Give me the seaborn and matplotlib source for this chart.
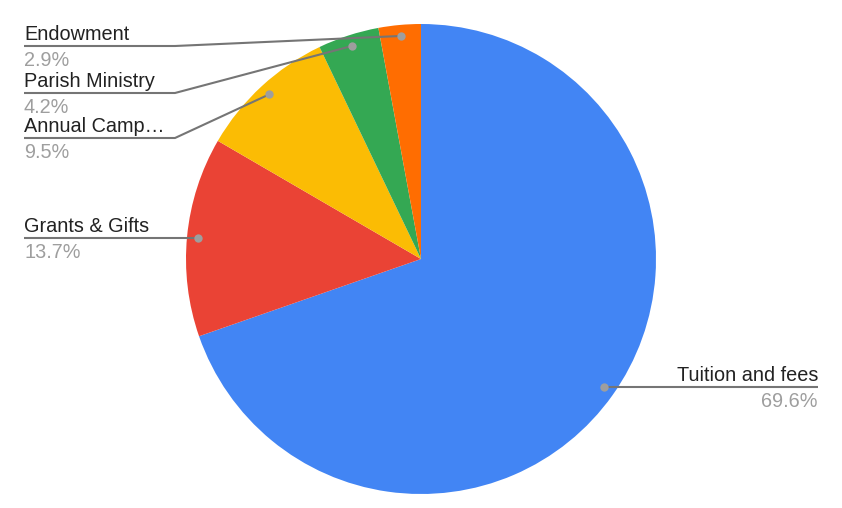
import numpy as np
import matplotlib.pyplot as plt
import seaborn as sns

sns.set_style('white')
plt.rcParams['font.family'] = ['Liberation Sans', 'DejaVu Sans']

# Data
labels = ['Tuition and fees', 'Grants & Gifts', 'Annual Camp…', 'Parish Ministry', 'Endowment']
shares = [69.6, 13.7, 9.5, 4.2, 2.9]
colors = ['#4285F4', '#EA4335', '#FBBC04', '#34A853', '#FF6D01']

W, H = 842, 508
fig = plt.figure(figsize=(W / 100, H / 100), dpi=100)
ax = fig.add_axes([0, 0, 1, 1])

cx, cy, r = 421, H - 259, 235
ax.pie(shares, colors=colors, startangle=90, counterclock=False,
       center=(cx, cy), radius=r, wedgeprops=dict(linewidth=0), frame=True)
ax.set_xlim(0, W)
ax.set_ylim(0, H)
ax.set_aspect('equal')
ax.axis('off')

# label layout (pixel rows of leader lines, top-down coordinates)
line_rows = [387, 238, 138, 93, 46]
line_color = '#757575'
dot_color = '#9E9E9E'

total = sum(shares)
cum = 0
for lab, val, row in zip(labels, shares, line_rows):
    mid = (cum + val / 2) / total * 360
    cum += val
    theta = np.deg2rad(90 - mid)
    dx, dy = cx + 0.953 * r * np.cos(theta), cy + 0.953 * r * np.sin(theta)
    ly = H - row
    if abs(dy - ly) < 4:
        dy = ly
    if dx > cx:
        xs, ys = [dx, 818], [dy, ly]
        tx, ha = 818, 'right'
    else:
        if dy == ly:
            xs, ys = [dx, 24], [ly, ly]
        else:
            xs, ys = [dx, 175, 24], [dy, ly, ly]
        tx, ha = 24, 'left'
    ax.plot(xs, ys, color=line_color, lw=1.5, solid_capstyle='butt', zorder=3)
    ax.scatter([dx], [dy], s=36, color=dot_color, zorder=4, linewidths=0)
    ax.text(tx, ly + 6, lab, ha=ha, va='baseline', fontsize=14.3, color='#222222')
    ax.text(tx, ly - 5, f'{val}%', ha=ha, va='top', fontsize=14.3, color='#9E9E9E')

plt.savefig('out.png', dpi=100)
